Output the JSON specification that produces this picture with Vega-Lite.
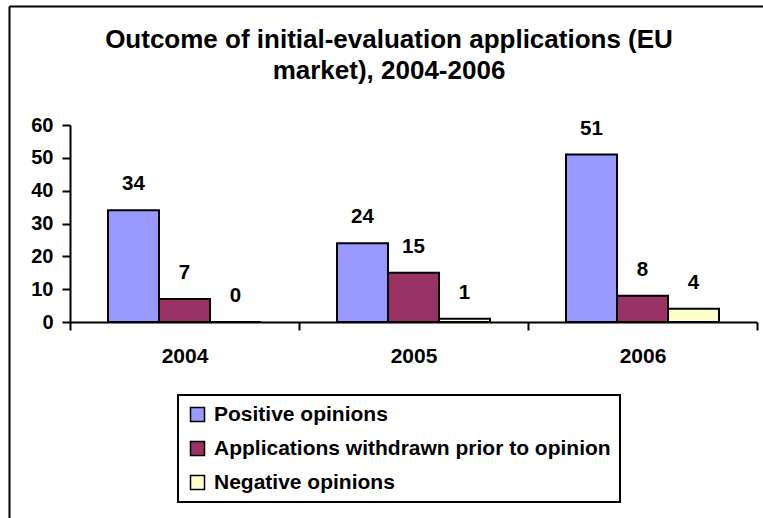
{
  "$schema": "https://vega.github.io/schema/vega-lite/v6.json",
  "width": 754,
  "height": 512,
  "autosize": {"type": "none"},
  "padding": {"left": 9, "top": 6, "right": 0, "bottom": 0},
  "background": "white",
  "config": {
    "font": "Liberation Sans",
    "view": {"stroke": null},
    "axis": {
      "grid": false,
      "domainColor": "black",
      "domainWidth": 2,
      "tickColor": "black",
      "tickWidth": 2,
      "tickSize": 8,
      "labelFont": "Liberation Sans",
      "labelFontWeight": "bold",
      "labelColor": "black"
    },
    "legend": {"strokeWidth": 2}
  },
  "title": {
    "text": ["Outcome of initial-evaluation applications (EU", "market), 2004-2006"],
    "font": "Liberation Sans",
    "fontSize": 26,
    "fontWeight": "bold",
    "color": "black",
    "anchor": "middle",
    "frame": "group",
    "baseline": "top",
    "offset": -78,
    "dx": 3,
    "lineHeight": 31.5
  },
  "data": {
    "values": [
      {"year": "2004", "series": "Positive opinions", "value": 34},
      {"year": "2004", "series": "Applications withdrawn prior to opinion", "value": 7},
      {"year": "2004", "series": "Negative opinions", "value": 0},
      {"year": "2005", "series": "Positive opinions", "value": 24},
      {"year": "2005", "series": "Applications withdrawn prior to opinion", "value": 15},
      {"year": "2005", "series": "Negative opinions", "value": 1},
      {"year": "2006", "series": "Positive opinions", "value": 51},
      {"year": "2006", "series": "Applications withdrawn prior to opinion", "value": 8},
      {"year": "2006", "series": "Negative opinions", "value": 4}
    ]
  },
  "layer": [
    {
      "encoding": {
        "x": {
          "field": "year",
          "type": "nominal",
          "scale": {"range": [61, 748], "paddingInner": 0, "paddingOuter": 0},
          "axis": {"orient": "bottom", "offset": -196, "labelAngle": 0, "tickBand": "extent", "labelPadding": 15, "labelFontSize": 21, "title": null}
        },
        "xOffset": {
          "field": "series",
          "type": "nominal",
          "sort": ["Positive opinions", "Applications withdrawn prior to opinion", "Negative opinions"],
          "scale": {"paddingInner": 0, "paddingOuter": 0.745}
        },
        "y": {
          "field": "value",
          "type": "quantitative",
          "scale": {"domain": [0, 60], "range": [316, 119], "nice": false, "zero": true},
          "axis": {"orient": "left", "values": [0, 10, 20, 30, 40, 50, 60], "offset": -61, "labelPadding": 9, "labelFontSize": 20, "title": null}
        }
      },
      "layer": [
        {
          "mark": {"type": "bar", "stroke": "black", "strokeWidth": 2},
          "encoding": {
            "color": {
              "field": "series",
              "type": "nominal",
              "scale": {
                "domain": ["Positive opinions", "Applications withdrawn prior to opinion", "Negative opinions"],
                "range": ["#9999FF", "#993366", "#FFFFCC"]
              },
              "legend": {
                "title": null,
                "orient": "none",
                "legendX": 169,
                "legendY": 389,
                "direction": "vertical",
                "symbolType": "square",
                "symbolSize": 196,
                "symbolStrokeColor": "black",
                "symbolStrokeWidth": 1.5,
                "symbolOpacity": 1,
                "labelFont": "Liberation Sans",
                "labelFontSize": 21,
                "labelFontWeight": "bold",
                "labelColor": "black",
                "labelLimit": 600,
                "labelOffset": 6,
                "strokeColor": "black",
                "fillColor": "white",
                "padding": 9,
                "rowPadding": 12,
                "cornerRadius": 0
              }
            }
          }
        },
        {
          "mark": {"type": "text", "fontSize": 20.5, "fontWeight": "bold", "font": "Liberation Sans", "color": "black", "baseline": "alphabetic", "dy": -20},
          "encoding": {
            "text": {"field": "value", "type": "quantitative"}
          }
        }
      ]
    },
    {
      "mark": {"type": "point", "opacity": 0},
      "encoding": {
        "x": {
          "field": "year",
          "type": "nominal",
          "scale": {"range": [0, 754], "paddingInner": 0, "paddingOuter": 0},
          "axis": {"orient": "top", "labels": false, "ticks": false, "title": null, "offset": 0}
        },
        "y": {
          "field": "value",
          "type": "quantitative",
          "scale": {"domain": [0, 60], "range": [512, 0], "nice": false},
          "axis": {"orient": "left", "labels": false, "ticks": false, "title": null, "offset": 0}
        }
      }
    }
  ],
  "resolve": {
    "scale": {"x": "independent", "y": "independent"},
    "axis": {"x": "independent", "y": "independent"}
  }
}
